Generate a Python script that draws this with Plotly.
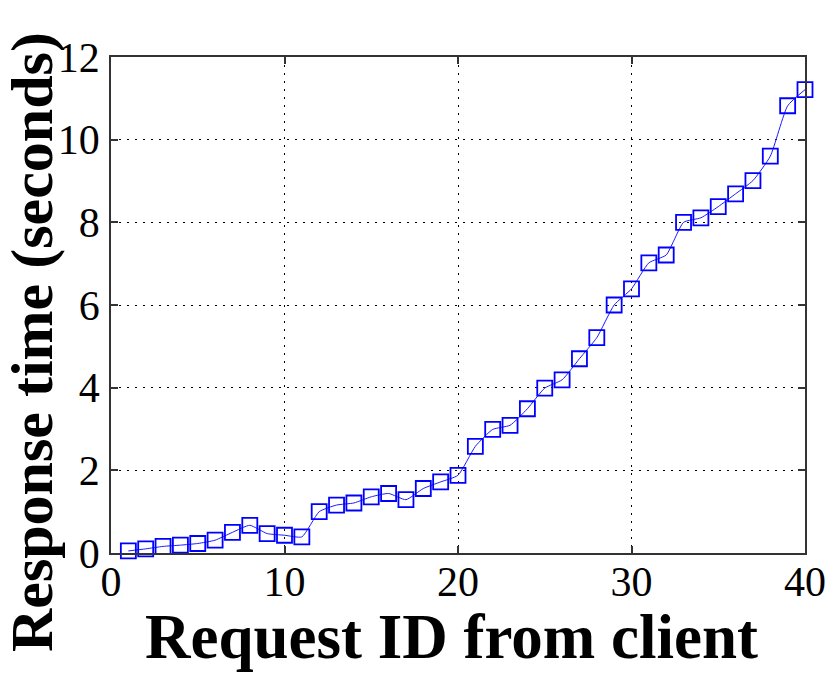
import plotly.graph_objects as go

# Response time for each request sent by the client
request_id = list(range(1, 41))
response_time = [
    0.05, 0.10, 0.16, 0.19, 0.23, 0.31, 0.50, 0.67, 0.47, 0.43,
    0.39, 1.00, 1.16, 1.21, 1.36, 1.44, 1.29, 1.56, 1.72, 1.88,
    2.58, 2.99, 3.09, 3.49, 3.99, 4.19, 4.70, 5.21, 6.00, 6.39,
    7.02, 7.21, 8.00, 8.11, 8.38, 8.69, 9.01, 9.60, 10.82, 11.21,
]

x_ticks = [0, 10, 20, 30, 40]
y_ticks = [0, 2, 4, 6, 8, 10, 12]

x_title = "Request ID from client"
y_title = "Response time (seconds)"

serif = "Liberation Serif, Times New Roman, serif"

fig = go.Figure()
fig.add_trace(go.Scatter(
    x=request_id,
    y=response_time,
    mode="lines+markers",
    line=dict(color="#1a1aff", width=1, shape="spline", smoothing=0.5),
    marker=dict(symbol="square-open", size=15, color="#0000ff",
                line=dict(width=1.8, color="#0000ff")),
    cliponaxis=False,
    showlegend=False,
))

axis_common = dict(
    showline=True, linecolor="#333333", linewidth=1.5, mirror="ticks",
    ticks="inside", ticklen=7, tickwidth=1.5, tickcolor="#333333",
    showgrid=True, gridcolor="#000000", gridwidth=1, griddash="1.5px,6.5px",
    zeroline=False,
    tickfont=dict(family=serif, size=42, color="#000000"),
)

fig.update_xaxes(range=[0, 40], tickvals=x_ticks, ticktext=[str(v) for v in x_ticks],
                 ticklabelstandoff=-9, **axis_common)
fig.update_yaxes(range=[0, 12], tickvals=y_ticks, ticktext=[str(v) for v in y_ticks],
                 ticklabelstandoff=1, **axis_common)

fig.update_layout(
    width=838, height=674,
    margin=dict(l=111, r=24, t=57, b=121),
    plot_bgcolor="white", paper_bgcolor="white",
    annotations=[
        dict(text=f"<b>{x_title}</b>", xref="paper", yref="paper",
             x=0.49, y=-0.17, xanchor="center", yanchor="middle", showarrow=False,
             font=dict(family=serif, size=63, color="#000000")),
        dict(text=f"<b>{y_title}</b>", xref="paper", yref="paper",
             x=-0.114, y=0.425, xanchor="center", yanchor="middle", textangle=-90,
             showarrow=False,
             font=dict(family=serif, size=60, color="#000000")),
    ],
)

fig.write_html("out.html")
